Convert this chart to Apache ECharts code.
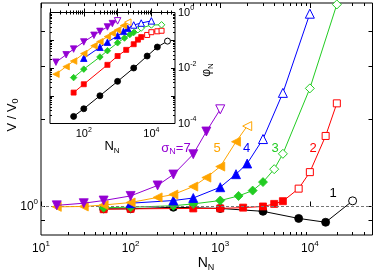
<!DOCTYPE html>
<html><head><meta charset="utf-8">
<script src="https://cdn.jsdelivr.net/npm/echarts@6/dist/echarts.min.js"></script>
<style>html,body{margin:0;padding:0;background:#fff}#c{width:374px;height:272px}</style>
</head><body><div id="c"></div>
<script>
// ---- data ----
// sigma_N = 1 (black circles)
const N1 = [50, 100, 300, 1000, 3000, 7500, 15000, 30000];
const V1 = [0.94, 0.94, 0.98, 0.95, 0.88, 0.73, 0.66, 1.16];
const P1 = [1.8e-4, 3.4e-4, 1.0e-3, 3.3e-3, 1.0e-2, 2.7e-2, 5.7e-2, 9.3e-2];
const F1 = 7;
// sigma_N = 2 (red squares)
const N2 = [50, 100, 500, 1000, 1800, 3000, 4000, 5000, 7500, 10000, 15000, 20000];
const V2 = [0.93, 0.94, 0.95, 0.95, 0.97, 1.0, 1.07, 1.15, 1.60, 2.47, 6.4, 15.1];
const P2 = [1.3e-3, 2.6e-3, 1.3e-2, 2.7e-2, 4.5e-2, 7.2e-2, 0.105, 0.13, 0.155, 0.195, 0.21, 0.22];
const F2 = 8;
// sigma_N = 3 (green diamonds)
const N3 = [50, 100, 300, 500, 1000, 1600, 2300, 3000, 4000, 5000, 10000, 20000];
const V3 = [0.97, 0.98, 1.02, 1.07, 1.17, 1.32, 1.52, 1.9, 2.67, 4.0, 22.4, 204];
const P3 = [4.5e-3, 9.1e-3, 2.5e-2, 4.2e-2, 8.1e-2, 0.12, 0.16, 0.19, 0.24, 0.275, 0.355, 0.36];
const F3 = 8;
// sigma_N = 4 (blue up triangles)
const N4 = [100, 300, 500, 1000, 1500, 2000, 3000, 5000, 10000];
const V4 = [1.09, 1.17, 1.25, 1.66, 2.34, 3.1, 5.9, 19.9, 160];
const P4 = [2.24e-2, 5.6e-2, 8.5e-2, 0.145, 0.209, 0.269, 0.355, 0.417, 0.5];
const F4 = 6;
// sigma_N = 5 (orange left triangles)
const N5 = [15, 30, 50, 100, 200, 300, 500, 700, 1000, 1500, 2000];
const V5 = [0.99, 1.0, 1.04, 1.11, 1.27, 1.37, 1.69, 2.14, 2.86, 5.5, 8.3];
const P5 = [6.0e-3, 1.12e-2, 1.78e-2, 3.3e-2, 6.3e-2, 8.9e-2, 0.135, 0.178, 0.234, 0.339, 0.447];
const F5 = 10;
// sigma_N = 7 (purple down triangles)
const N7 = [15, 30, 50, 100, 200, 300, 500, 700, 1000];
const V7 = [1.03, 1.09, 1.17, 1.32, 1.74, 2.32, 3.96, 7.2, 12.9];
const P7 = [1.62e-2, 3.0e-2, 4.8e-2, 8.7e-2, 0.151, 0.209, 0.302, 0.398, 0.501];
const F7 = 8;

// axis ranges and ticks
const X_MIN = 10, X_MAX = 50000;
const Y_MIN = 0.472, Y_MAX = 212;
const P_MIN = 1e-4, P_MAX = 1;
const X_MAJOR = [10, 100, 1000, 10000];
const X_LABELS = [10, 100, 1000, 10000];
const Y_MAJOR = [0.7, 1, 10, 40, 100];
const Y_LABELS = [1];
const IX_LABELS = [100, 10000];
const IP_MAJOR = [1e-4, 1e-3, 1e-2, 1e-1, 1];
const IP_LABELS = [1e-4, 1e-2, 1];
const REF_LINE = 1;

// ---- helpers ----
const L = Math.log10;
function minors(lo, hi) {
  const out = [];
  for (let e = Math.floor(L(lo)); e <= Math.ceil(L(hi)); e++) {
    for (let k = 2; k <= 9; k++) {
      const v = k * Math.pow(10, e);
      if (v > lo && v < hi) out.push(L(v));
    }
  }
  return out;
}
const FONT = 'Liberation Sans, Arial, sans-serif';
function pow10Label(fs, ss, rise) {
  return {
    formatter: v => '{b|10}{s|' + Math.round(v) + '}',
    rich: {
      b: {fontSize: fs, fontFamily: FONT, color: '#000', lineHeight: fs + rise},
      s: {fontSize: ss, fontFamily: FONT, color: '#000', verticalAlign: 'top', lineHeight: ss + 1}
    }
  };
}
function tickAxis(grid, pos, lo, hi, ticks, len, labels, labelOpt, isX) {
  const ax = {
    type: 'value', gridIndex: grid, position: pos,
    min: L(lo), max: L(hi),
    axisLine: {show: false},
    splitLine: {show: false},
    axisTick: {show: true, inside: true, length: len, customValues: ticks,
      lineStyle: {color: '#000', width: 1}},
    axisLabel: {show: false},
    silent: true
  };
  if (labels) {
    ax.axisLabel = Object.assign({show: true, customValues: labels.map(L), margin: labelOpt.margin,
      showMinLabel: true, showMaxLabel: true}, pow10Label(labelOpt.fs, labelOpt.ss, labelOpt.rise));
  }
  return ax;
}

const mainXData = {type: 'log', gridIndex: 0, min: X_MIN, max: X_MAX, show: false};
const mainYData = {type: 'log', gridIndex: 0, min: Y_MIN, max: Y_MAX, show: false};
const insXData = {type: 'log', gridIndex: 1, min: X_MIN, max: X_MAX, show: false};
const insYData = {type: 'log', gridIndex: 1, min: P_MIN, max: P_MAX, show: false};

const xMinor = minors(X_MIN, X_MAX);
const pMinor = minors(P_MIN, P_MAX);
const mainLab = {fs: 12, ss: 8, rise: 5, margin: 5};
const insLab = {fs: 11, ss: 7, rise: 4, margin: 3};

const xAxes = [
  mainXData,                                                                 // 0
  tickAxis(0, 'bottom', X_MIN, X_MAX, X_MAJOR.map(L), 5, X_LABELS, mainLab), // 1
  tickAxis(0, 'bottom', X_MIN, X_MAX, xMinor, 3),                            // 2
  tickAxis(0, 'top', X_MIN, X_MAX, X_MAJOR.map(L), 5),                       // 3
  tickAxis(0, 'top', X_MIN, X_MAX, xMinor, 3),                               // 4
  insXData,                                                                  // 5
  tickAxis(1, 'bottom', X_MIN, X_MAX, X_MAJOR.map(L), 4, IX_LABELS, insLab), // 6
  tickAxis(1, 'bottom', X_MIN, X_MAX, xMinor, 2),                            // 7
  tickAxis(1, 'top', X_MIN, X_MAX, X_MAJOR.map(L), 4),                       // 8
  tickAxis(1, 'top', X_MIN, X_MAX, xMinor, 2)                                // 9
];
const yAxes = [
  mainYData,                                                                      // 0
  tickAxis(0, 'left', Y_MIN, Y_MAX, Y_MAJOR.map(L), 4, Y_LABELS, {fs: 12, ss: 8, rise: 5, margin: 3}), // 1
  tickAxis(0, 'right', Y_MIN, Y_MAX, Y_MAJOR.map(L), 4),                          // 2
  insYData,                                                                       // 3
  tickAxis(1, 'left', P_MIN, P_MAX, IP_MAJOR.map(L), 4),                          // 4
  tickAxis(1, 'left', P_MIN, P_MAX, pMinor, 2),                                   // 5
  tickAxis(1, 'right', P_MIN, P_MAX, IP_MAJOR.map(L), 4, IP_LABELS, {fs: 11, ss: 7, rise: 4, margin: 3}), // 6
  tickAxis(1, 'right', P_MIN, P_MAX, pMinor, 2)                                   // 7
];

const C = {
  k: '#000000', r: '#ff0000', g: '#22cc22', b: '#0000ff', o: '#ffa500', p: '#9400d3'
};
function mk(N, vals, filled, color, symbol, rot, size, xi, yi, z) {
  return {
    type: 'line', xAxisIndex: xi, yAxisIndex: yi, z: z,
    data: N.map((n, i) => ({
      value: [n, vals[i]],
      itemStyle: i < filled ? {color: color, borderColor: color, borderWidth: 0.8}
                            : {color: '#ffffff', borderColor: color, borderWidth: 1}
    })),
    symbol: symbol, symbolRotate: rot, symbolSize: size, showAllSymbol: true,
    lineStyle: {color: color, width: 1}, itemStyle: {color: color},
    emphasis: {disabled: true}, animation: false, silent: true
  };
}
const series = [
  mk(N1, V1, F1, C.k, 'circle', 0, 8, 0, 0, 2),
  mk(N2, V2, F2, C.r, 'rect', 0, 7, 0, 0, 3),
  mk(N3, V3, F3, C.g, 'diamond', 0, 9, 0, 0, 4),
  mk(N4, V4, F4, C.b, 'triangle', 0, 9, 0, 0, 5),
  mk(N5, V5, F5, C.o, 'triangle', 90, 9, 0, 0, 6),
  mk(N7, V7, F7, C.p, 'triangle', 180, 9, 0, 0, 7),
  mk(N1, P1, F1, C.k, 'circle', 0, 6, 5, 3, 12),
  mk(N2, P2, F2, C.r, 'rect', 0, 5, 5, 3, 13),
  mk(N3, P3, F3, C.g, 'diamond', 0, 6.5, 5, 3, 14),
  mk(N4, P4, F4, C.b, 'triangle', 0, 6.5, 5, 3, 15),
  mk(N5, P5, F5, C.o, 'triangle', 90, 6.5, 5, 3, 16),
  mk(N7, P7, F7, C.p, 'triangle', 180, 6.5, 5, 3, 17)
];
series[0].markLine = {
  silent: true, symbol: 'none', label: {show: false},
  lineStyle: {color: '#777', type: [3, 2], width: 1},
  data: [{yAxis: REF_LINE}], animation: false
};
series[0].z = 2;

function txt(x, y, text, color, fs, rot, rich) {
  return {
    type: 'text', x: x, y: y, rotation: rot || 0, silent: true, z: 50,
    style: {text: text, fill: color, font: fs + 'px ' + FONT, align: 'center', verticalAlign: 'middle',
      rich: rich}
  };
}
function subRich(color, fs, sfs) {
  return {
    a: {fontSize: fs, fontFamily: FONT, fill: color, color: color, lineHeight: fs + 4},
    b: {fontSize: sfs, fontFamily: FONT, fill: color, color: color, verticalAlign: 'bottom', lineHeight: sfs}
  };
}

const chart = echarts.init(document.getElementById('c'), null, {renderer: 'canvas'});
chart.setOption({
  animation: false,
  backgroundColor: '#fff',
  grid: [
    {left: 41, top: 3, right: 1.5, bottom: 37, show: true, borderColor: '#000', borderWidth: 1, backgroundColor: 'transparent'},
    {left: 50, top: 12.5, width: 125, height: 111, show: true, borderColor: '#000', borderWidth: 1, backgroundColor: '#fff'}
  ],
  xAxis: xAxes,
  yAxis: yAxes,
  series: series,
  graphic: [
    txt(12, 115, '{a|V / V}{b|0}', '#000', 13, Math.PI / 2, subRich('#000', 13, 9)),
    txt(206, 263, '{a|N}{b|N}', '#000', 14, 0, subRich('#000', 14, 9)),
    txt(112, 146, '{a|N}{b|N}', '#000', 13, 0, subRich('#000', 13, 8)),
    txt(207, 70, '{a|φ}{b|N}', '#000', 12, Math.PI / 2, subRich('#000', 12, 8)),
    txt(176, 148, '{a|σ}{b|N}{a|=7}', C.p, 13, 0, subRich(C.p, 13, 9)),
    txt(217, 148, '5', C.o, 13),
    txt(246.5, 148, '4', C.b, 13),
    txt(275, 148, '3', C.g, 13),
    txt(313, 148, '2', C.r, 13),
    txt(333, 193, '1', '#000', 13)
  ]
});
</script></body></html>
